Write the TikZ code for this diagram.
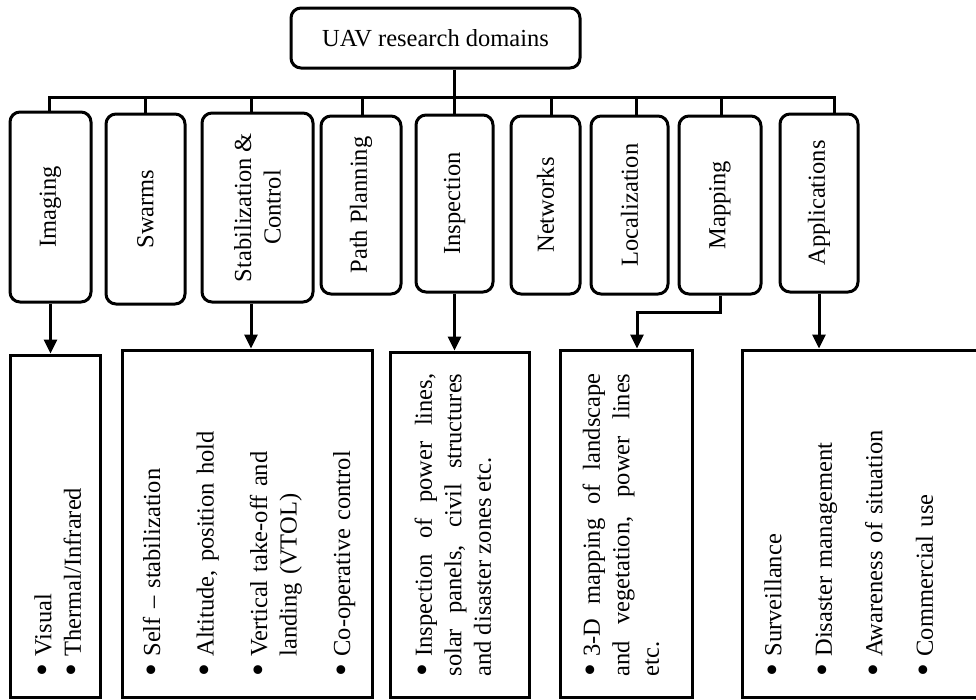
\documentclass[tikz,border=0pt]{standalone}
\usepackage{fontspec}
\setmainfont{Liberation Serif}
\usepackage{tikz}
\usetikzlibrary{positioning}
\usetikzlibrary{arrows.meta}
\newcommand{\bitem}{\noindent\hangindent=20pt\hangafter=1\makebox[20pt][l]{\raisebox{-3pt}{\scalebox{1.5}{\textbullet}}}}
\tikzset{
    MyCanvas/.style={x=1pt,y=-1pt,line width=3pt,font=\fontsize{24.5}{29.5}\selectfont},
    MyRoot/.style={draw,rounded corners=10pt,minimum width=289pt,minimum height=60pt,inner sep=0pt},
    MyDomain/.style 2 args={draw,rounded corners=10pt,rotate=90,minimum width=#1pt,minimum height=#2pt,inner sep=0pt,align=center},
    MyList/.style 2 args={draw,minimum width=#1pt,minimum height=#2pt,inner sep=0pt},
    MyItems/.style={rotate=90,anchor=west,inner sep=0pt,text width=303pt,align=left,
        execute at begin node={\setlength{\parskip}{#1}\hyphenpenalty=10000\exhyphenpenalty=10000}},
    MyItems/.default=21pt,
    MyArrow/.style={-{Triangle[length=14pt,width=13pt]}}
}

\begin{document}
\begin{tikzpicture}[MyCanvas]
    \useasboundingbox (0,0) rectangle (976,699);
    \clip (0,0) rectangle (976,699);

    \node[MyRoot] (uav) at (435.5,38) {UAV research domains};

    \begin{scope}
        \node[MyDomain={190}{81}] (img) at (50.5,207) {Imaging};
        \node[MyDomain={190}{79}] (swm) at (145.5,209) {Swarms};
        \node[MyDomain={189}{111}] (stc) at (257.5,207.5) {Stabilization \&\\Control};
        \node[MyDomain={178}{80}] (pth) at (361,205) {Path Planning};
        \node[MyDomain={177}{77}] (insp) at (454.5,203.5) {Inspection};
        \node[MyDomain={178}{69}] (net) at (545.5,205) {Networks};
        \node[MyDomain={178}{77}] (loc) at (629.5,205) {Localization};
        \node[MyDomain={178}{82}] (map) at (720,205) {Mapping};
        \node[MyDomain={178}{78}] (appl) at (819,203) {Applications};
    \end{scope}

    \begin{scope}
        \node[MyList={90}{342}] (b1) at (55,526) {};
        \node[MyList={250}{347}] (b2) at (247,523.5) {};
        \node[MyList={139}{345}] (b3) at (459.5,524.5) {};
        \node[MyList={132}{347}] (b4) at (626,523.5) {};
        \node[MyList={268}{347}] (b5) at (876,523.5) {};

        \node[MyItems=0pt] (t1) at (59,678) {\bitem Visual\par\bitem Thermal/Infrared};
        \node[MyItems=24pt,text width=250pt] (t2) at (249,678) {\bitem Self \textendash{} stabilization\par
            \bitem Altitude, position hold\par\bitem Vertical take-off and landing (VTOL)\par
            \bitem Co-operative control};
        \node[MyItems,align=justify] (t3) at (453,678) {\bitem Inspection of power lines, solar panels, civil structures and disaster zones etc.};
        \node[MyItems,align=justify] (t4) at (621,678) {\bitem 3-D mapping of landscape and vegetation, power lines\linebreak etc.};
        \node[MyItems] (t5) at (850,678) {\bitem Surveillance\par\bitem Disaster management\par
            \bitem Awareness of situation\par\bitem Commercial use};
    \end{scope}

    \draw (49,0 |- img.east) |- (834,97) -- (834,0 |- appl.east);
    \foreach \x/\nm in {145/swm,251/stc,362/pth,551/net,636/loc,721/map}
        \draw (\x,97) -- (\x,0 |- \nm.east);
    \draw (uav.south -| insp.east) -- (insp.east);

    \draw[MyArrow] (img.west) -- (img.west |- b1.north);
    \draw[MyArrow] (251,0 |- stc.west) -- (251,0 |- b2.north);
    \draw[MyArrow] (insp.west) -- (insp.west |- b3.north);
    \draw[MyArrow] (map.west) |- (637,312) -- (637,0 |- b4.north);
    \draw[MyArrow] (appl.west) -- (appl.west |- b5.north);
\end{tikzpicture}
\end{document}
